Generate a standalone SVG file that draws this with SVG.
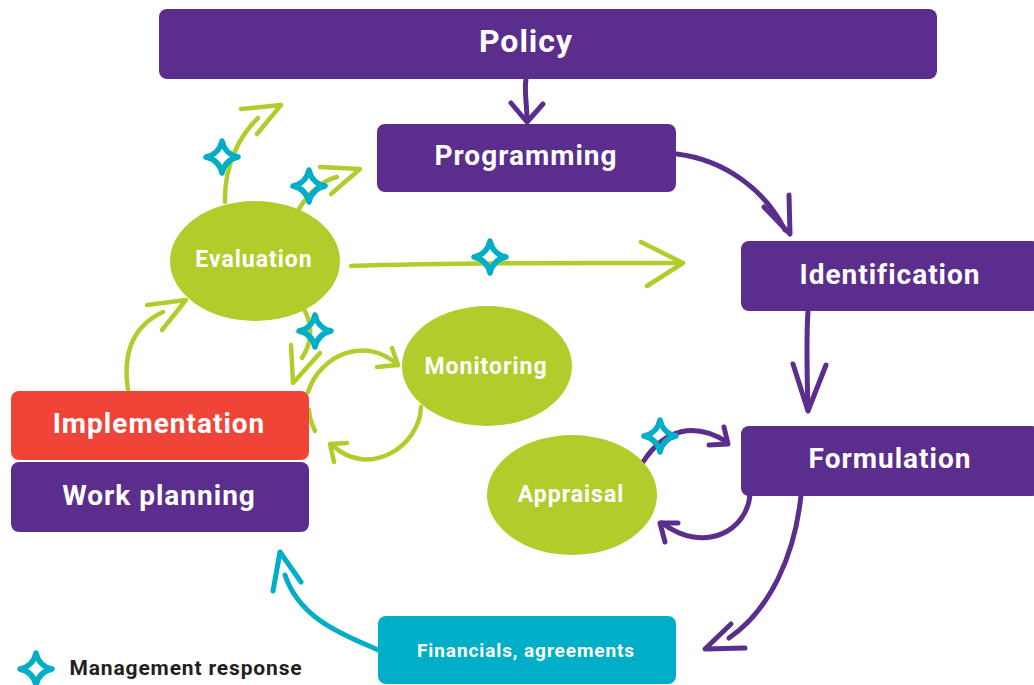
<svg xmlns="http://www.w3.org/2000/svg" width="1034" height="685" viewBox="0 0 1034 685">
<defs>
<style>
text{font-family:Roboto,"Liberation Sans",sans-serif;font-weight:700;fill:#fff;text-anchor:middle;letter-spacing:1px}
.p{fill:#5b2e8e}.g{fill:#b2cc2c}.r{fill:#f04438}.t{fill:#00aec7}
.l{fill:none;stroke-linecap:round;stroke-linejoin:round}
.lg{stroke:#b2cc2c;stroke-width:4.500}.lp{stroke:#5b2e8e;stroke-width:5}.lt{stroke:#00aec7;stroke-width:5}
.star{fill:none;stroke:#00aec7;stroke-width:5.500;stroke-linejoin:round;stroke-linecap:round}
</style>
<path id="s" d="M0-16C2-7 7-2 16 0C7 2 2 7 0 16C-2 7-7 2-16 0C-7-2-2-7 0-16Z"/>
</defs>
<rect width="1034" height="685" fill="#fff"/>
<g id="connectors">
<g class="l lp">
<path d="M526 79C524 90 527 105 527 121"/><path d="M511 103L527 122L543 104"/>
<path d="M677 154C725 160 765 190 785 230"/><path d="M764 207L790 234L789 195"/>
<path d="M808 311C806 340 807 375 808 410"/><path d="M793 364L808 411L826 365"/>
<path d="M643 462C665 428 695 422 727 442"/><path d="M709 445L728 444L724 427"/>
<path d="M750 495C747 530 705 555 662 523"/><path d="M678 523L660 523L665 542"/>
<path d="M801 495C795 555 770 610 729 638"/><path d="M731 624L705 649L745 648"/>
</g>
<g class="l lt"><path d="M378 650C345 635 300 620 285 575"/><path d="M273 591L280 552L301 582"/></g>
<g class="l lg">
<path d="M225 202C224 165 240 135 258 118"/><path d="M241 109L281 105L257 134"/>
<path d="M299 209C310 190 325 180 337 177"/><path d="M320 167L360 169L331 194"/>
<path d="M351 266C450 262 570 263 680 263"/><path d="M641 242L683 263L647 286"/>
<path d="M128 390C122 350 135 325 163 312"/><path d="M147 305L186 300L162 330"/>
<path d="M304 309C315 330 310 345 302 358"/><path d="M291 345L293 383L320 353"/>
<path d="M308 392C320 355 365 335 398 365"/><path d="M377 367L398 365L392 348"/>
<path d="M315 431C310 420 309 415 309 410"/>
<path d="M421 407C420 445 370 480 332 445"/><path d="M347 443L330 444L334 462"/>
</g>
</g>
<g id="policy"><rect class="p" x="159" y="9" width="778" height="70" rx="8"/><text x="526" y="52" font-size="32">Policy</text></g>
<g id="programming"><rect class="p" x="377" y="124" width="299" height="68" rx="8"/><text x="526" y="165" font-size="28">Programming</text></g>
<g id="identification"><rect class="p" x="741" y="241" width="299" height="70" rx="8"/><text x="890" y="284" font-size="28">Identification</text></g>
<g id="formulation"><rect class="p" x="741" y="426" width="299" height="70" rx="8"/><text x="890" y="468" font-size="28">Formulation</text></g>
<g id="financials"><rect class="t" x="378" y="616" width="298" height="68" rx="8"/><text x="526" y="657" font-size="19" style="letter-spacing:.9px">Financials, agreements</text></g>
<g id="implementation"><rect class="r" x="11" y="391" width="298" height="69" rx="8"/><text x="159" y="433" font-size="28">Implementation</text></g>
<g id="work-planning"><rect class="p" x="11" y="462" width="298" height="70" rx="8"/><text x="159" y="505" font-size="28">Work planning</text></g>
<g id="evaluation"><ellipse class="g" cx="255" cy="261" rx="85" ry="60"/><text x="254" y="267" font-size="23">Evaluation</text></g>
<g id="monitoring"><ellipse class="g" cx="487" cy="366" rx="85" ry="60"/><text x="486" y="374" font-size="23">Monitoring</text></g>
<g id="appraisal"><ellipse class="g" cx="572" cy="495" rx="85" ry="60"/><text x="571" y="502" font-size="23">Appraisal</text></g>
<g id="stars" class="star">
<use href="#s" x="222" y="157"/><use href="#s" x="309" y="186"/><use href="#s" x="490" y="257"/>
<use href="#s" x="315" y="331"/><use href="#s" x="660" y="436"/>
</g>
<g id="legend"><use href="#s" class="star" x="36" y="669"/><text x="186" y="675" font-size="21" style="fill:#231f20;letter-spacing:.85px">Management response</text></g>
</svg>
